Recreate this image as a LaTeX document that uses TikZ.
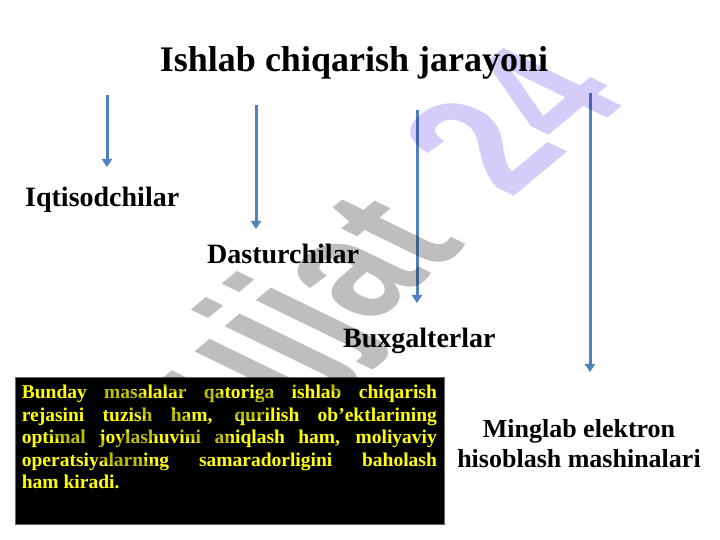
\documentclass[tikz,border=0pt]{standalone}
\usepackage{fontspec}
\setmainfont{Liberation Serif}
\newfontfamily\wmfont{Liberation Sans}
\usetikzlibrary{arrows.meta}
\definecolor{arrblue}{RGB}{79,129,189}
\definecolor{wmgray}{RGB}{190,190,190}
\definecolor{wmpurple}{RGB}{214,204,250}
\definecolor{txtyellow}{RGB}{255,255,0}
\newcommand\wmword[5]{%
  \begin{scope}[shift={(#2,#3)},cm={0.768,0.640,-1.199,0.584,(0,0)}]
  \node[wm,text=#5] (#1) at (0,0) {#4};
  \end{scope}}
\begin{document}
\begin{tikzpicture}[x=1pt,y=1pt,
  title/.style={inner sep=0,anchor=base,font=\fontsize{36}{40}\selectfont\bfseries},
  lbl/.style={inner sep=0,anchor=base west,font=\fontsize{28}{32}\selectfont\bfseries},
  lbltwo/.style={inner sep=0,anchor=base,align=center,font=\fontsize{26}{30}\selectfont\bfseries},
  arr/.style={draw=arrblue,line width=3pt,-{Triangle[width=10pt,length=8pt]}},
  blackbox/.style={fill=black,draw=black!60,line width=0.4pt,inner sep=0,anchor=north west,minimum width=429pt,minimum height=147pt},
  boxtext/.style={anchor=north west,inner sep=0,text width=415pt,align=justify,text=txtyellow,font=\fontsize{19.5}{22.5}\selectfont\bfseries},
  wm/.style={transform shape,inner sep=0,anchor=base west,font=\wmfont\bfseries\fontsize{144}{144}\selectfont}]
\useasboundingbox (0,0) rectangle (720,540);
\fill[white] (0,0) rectangle (720,540);

% title
\node[title] (ttl) at (354,468) {Ishlab chiqarish jarayoni};

% labels
\node[lbl] (iq) at (25,333.5) {Iqtisodchilar};
\node[lbl] (ds) at (207,276) {Dasturchilar};
\node[lbl] (bx) at (343,192) {Buxgalterlar};
\node[lbltwo] (mg) at (579,72) {Minglab elektron\\hisoblash mashinalari};

% arrows
\coordinate (a1s) at (107,445); \coordinate (a1e) at (107,373);
\coordinate (a2s) at (256,435); \coordinate (a2e) at (256,311);
\coordinate (a3s) at (417,430); \coordinate (a3e) at (417,237);
\coordinate (a4s) at (590,447); \coordinate (a4e) at (590,168);
\draw[arr] (a1s) -- (a1e);
\draw[arr] (a2s) -- (a2e);
\draw[arr] (a3s) -- (a3e);
\draw[arr] (a4s) -- (a4e);

% black text box
\node[blackbox] (box) at (15,163) {};
\node[boxtext] (bt) at ([xshift=6.7pt,yshift=-8pt]box.north west)
  {\tolerance=10000\hyphenpenalty=10000 Bunday masalalar qatoriga ishlab chiqarish\linebreak
   rejasini tuzish ham, qurilish ob’ektlarining\linebreak
   optimal joylashuvini aniqlash ham, moliyaviy\linebreak
   operatsiyalarning samaradorligini baholash\linebreak
   ham kiradi.};

% watermark
\begin{scope}[blend mode=multiply]
\wmword{wmA}{161}{40}{Hujjat}{wmgray}
\wmword{wmB}{510}{340}{24}{wmpurple}
\end{scope}
\end{tikzpicture}
\end{document}
